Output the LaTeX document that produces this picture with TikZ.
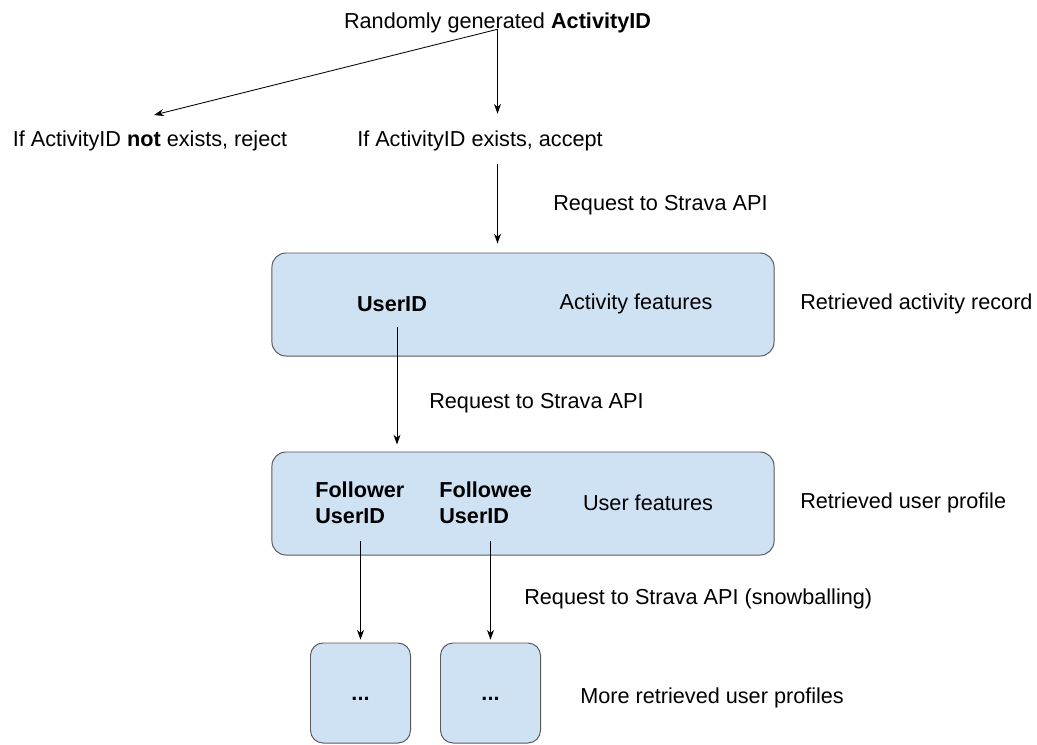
\documentclass[tikz,border=0pt]{standalone}
\usepackage{fontspec}
\setmainfont{Liberation Sans}
\usetikzlibrary{arrows.meta,positioning,calc}
\definecolor{boxBlue}{HTML}{CFE2F3}
\definecolor{boxLine}{HTML}{595959}

\begin{document}
\begin{tikzpicture}[
  x=0.025cm, y=-0.025cm,
  every node/.style={font=\fontsize{15.4}{18.4}\selectfont, inner sep=0pt},
  arr/.style={-{Stealth[length=7pt,width=5pt]}, line width=0.6pt},
  bigbox/.style={draw=boxLine, fill=boxBlue, rounded corners=10pt, line width=0.7pt,
                 minimum width=12.55cm, minimum height=2.575cm},
  smallbox/.style={draw=boxLine, fill=boxBlue, rounded corners=9pt, line width=0.7pt,
                   minimum width=2.5cm, minimum height=2.5cm, text height=11pt, text depth=0pt,
                   font=\fontsize{15.4}{18.4}\selectfont\bfseries},
  idtext/.style={font=\fontsize{15.4}{18.4}\selectfont\bfseries, align=left, anchor=west},
]
\useasboundingbox (0,0) rectangle (1037,744);

% Source of the ID
\node (title) at (497.5,22.4) {Randomly generated \textbf{ActivityID}};
\node (reject) at (150,141) {If ActivityID \textbf{not} exists, reject};
\node (accept) at (480,141) {If ActivityID exists, accept};
\coordinate (split) at ([yshift=2.5pt]title.south);
\coordinate (rejtip) at (154,115);

% Activity record
\node[bigbox] (record) at (523,304.5) {};
\node[font=\fontsize{15.4}{18.4}\selectfont\bfseries] (userid) at (392,304) {UserID};
\node (actfeat) at (636,304) {Activity features};
\node[anchor=west] (recordlbl) at (800,304) {Retrieved activity record};

% User profile
\node[bigbox] (profile) at (523,503.5) {};
\node[idtext] (follower) at (315,503) {Follower\\UserID};
\node[idtext] (followee) at (439,503) {Followee\\UserID};
\node (userfeat) at (648,503) {User features};
\node[anchor=west] (profilelbl) at (800,503) {Retrieved user profile};

% Snowballed profiles
\node[smallbox] (more1) at (360.5,693) {...};
\node[smallbox] (more2) at (490.5,693) {...};
\node[anchor=west] (morelbl) at (580,698) {More retrieved user profiles};

% Request labels
\node[anchor=west] (req1) at (553,205) {Request to Strava API};
\node[anchor=west] (req2) at (429,403) {Request to Strava API};
\node[anchor=west] (req3) at (524,599) {Request to Strava API (snowballing)};

% Connectors
\draw[arr, shorten >=12pt] (split) -- (split |- accept.north);
\draw[arr] (split) -- (rejtip);
\draw[arr, shorten <=9pt, shorten >=6.4pt] (split |- accept.south) -- (split |- record.north);
\draw[arr, shorten <=11pt, shorten >=5pt] ([xshift=0.125cm]userid.south) -- ([xshift=0.125cm]userid.south |- profile.north);
\draw[arr, shorten <=12pt, shorten >=2pt] (more1.north |- follower.south) -- (more1.north);
\draw[arr, shorten <=12pt, shorten >=2pt] (more2.north |- followee.south) -- (more2.north);

\end{tikzpicture}
\end{document}
